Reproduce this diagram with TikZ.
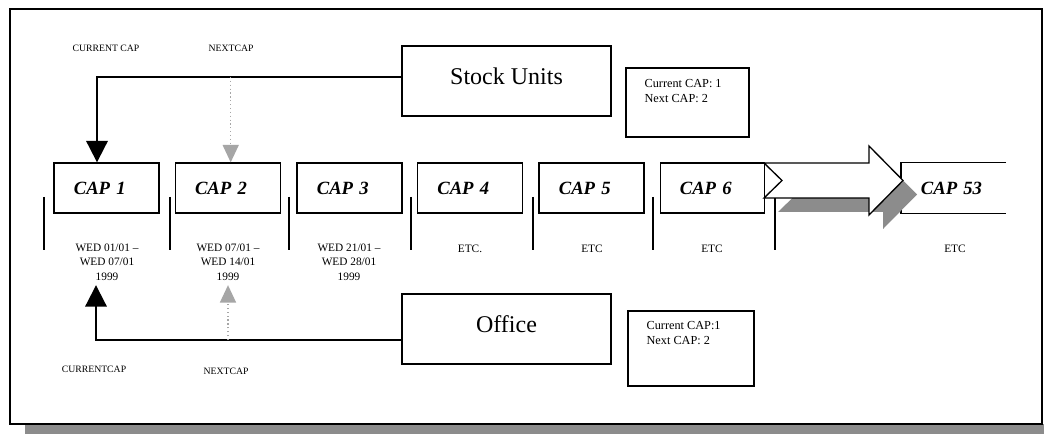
\documentclass[tikz,border=0pt]{standalone}
\usepackage{fontspec}
\setmainfont{Liberation Serif}
\usetikzlibrary{arrows.meta,calc}
\begin{document}
\begin{tikzpicture}[x=0.75pt,y=-0.75pt,
  capbox/.style={draw, line width=1pt, minimum width=78.75pt, minimum height=37.5pt,
    inner xsep=14.5pt, text width=49pt, align=left,
    font=\fontsize{14}{16}\selectfont\bfseries\itshape},
  bigbox/.style={draw, line width=1pt, minimum width=156.75pt, minimum height=52.5pt,
    text depth=7.5pt, font=\fontsize{18}{20}\selectfont},
  infobox/.style={draw, line width=1pt},
  infotext/.style={align=left, anchor=north west, inner sep=0pt,
    font=\fontsize{9.2}{11}\selectfont},
  sep/.style={line width=1.1pt},
  datetext/.style={align=center, font=\fontsize{8.5}{11}\selectfont},
  tag/.style={font=\fontsize{7.3}{9}\selectfont},
  capline/.style={line width=1.5pt, -{Triangle[width=16pt,length=16pt]}},
  nextline/.style={black!35, line width=0.9pt, dotted,
    -{Triangle[width=12pt,length=13pt,fill=black!35]}},
  shade/.style={fill=black!45}
]
\useasboundingbox (0,0) rectangle (1044,434);

% page frame with its drop shadow
\fill[shade] (25,424) rectangle (1044,434);
\draw[line width=1pt, fill=white] (10,9) rectangle (1042,424);

% week boxes
\node[capbox] (cap1) at (106.5,188) {CAP 1};
\node[capbox] (cap2) at (227.7,188) {CAP 2};
\node[capbox] (cap3) at (349.5,188) {CAP 3};
\node[capbox] (cap4) at (470,188) {CAP 4};
\node[capbox] (cap5) at (591.5,188) {CAP 5};
\node[capbox, minimum width=77.25pt] (cap6) at (712.5,188) {CAP 6};
\node[capbox, draw=none, minimum width=77.25pt] (cap53) at (953.5,188) {CAP 53};
\draw[line width=1pt] (cap53.north east) -- (cap53.north west)
  -- (cap53.south west) -- (cap53.south east);

% separators between the weeks
\foreach \x in {44,170,289,411,533,653,775}
  \draw[sep] (\x,197) -- (\x,250);

% week dates
\node[datetext] (date1) at (107,262) {WED 01/01 --\\WED 07/01\\1999};
\node[datetext] (date2) at (228,262) {WED 07/01 --\\WED 14/01\\1999};
\node[datetext] (date3) at (349,262) {WED 21/01 --\\WED 28/01\\1999};
\node[datetext] (etc4) at (470,249) {ETC.};
\node[datetext] (etc5) at (592,249) {ETC};
\node[datetext] (etc6) at (712,249) {ETC};
\node[datetext] (etc53) at (955,249) {ETC};

% block arrow leading on to the last week, with its shadow
\fill[shade, shift={(14,14)}] (764,163) -- (869,163) -- (869,146) -- (903,180.5)
  -- (869,215) -- (869,198) -- (764,198) -- (782,180.5) -- cycle;
\draw[line width=1pt, fill=white] (764,163) -- (869,163) -- (869,146) -- (903,180.5)
  -- (869,215) -- (869,198) -- (764,198) -- (782,180.5) -- cycle;

% the two systems
\node[bigbox] (stock) at (506.5,81) {Stock Units};
\node[bigbox] (office) at (506.5,329) {Office};

\node[infobox, minimum width=92.25pt, minimum height=51.75pt] (info1) at (687.5,102.5) {};
\node[infotext] (info1txt) at ($(info1.north west)+(19,12)$) {Current CAP: 1\\Next CAP: 2};
\node[infobox, minimum width=94.5pt, minimum height=56.25pt] (info2) at (691,348.5) {};
\node[infotext] (info2txt) at ($(info2.north west)+(19,11)$) {Current CAP:1\\Next CAP: 2};

% pointers to the current and next week
\coordinate (topbus) at ($(stock.west)+(0,-4)$);
\coordinate (botbus) at ($(office.west)+(0,11)$);
\draw[capline] (topbus) -| ($(cap1.north)+(-9.5,0)$);
\draw[nextline] ([xshift=2.25pt]cap2.north |- topbus) -- ([xshift=2.25pt]cap2.north);
\draw[capline] (botbus) -| ($(date1.south)+(-11,0)$);
\draw[nextline] (date2.south |- botbus) -- (date2.south);

\node[tag] (curtop) at (106,48) {CURRENT CAP};
\node[tag] (nexttop) at (231,48) {NEXTCAP};
\node[tag] (curbot) at (94,369) {CURRENTCAP};
\node[tag] (nextbot) at (226,371) {NEXTCAP};
\end{tikzpicture}
\end{document}
